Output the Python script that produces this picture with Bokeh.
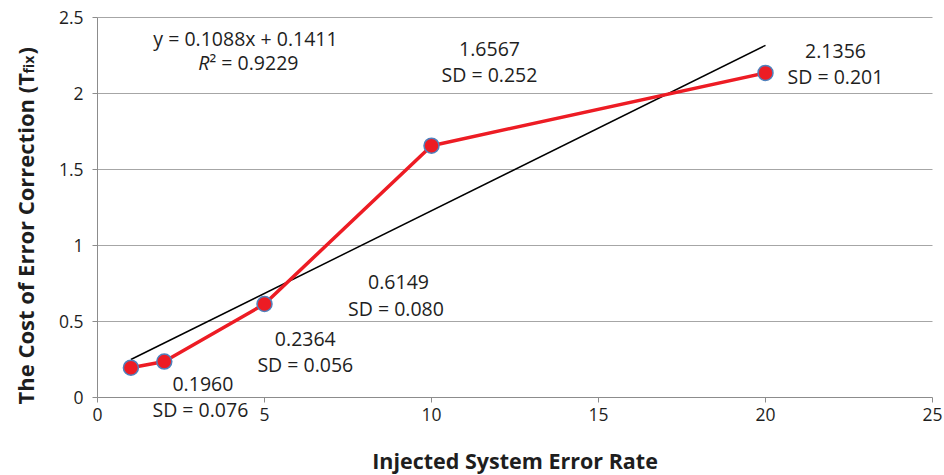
import math
from bokeh.plotting import figure
from bokeh.models import ColumnDataSource, Label, FixedTicker, Range1d
from bokeh.embed import file_html
from bokeh.resources import INLINE

# ---- data ----
error_rate = [1, 2, 5, 10, 20]
cost = [0.1960, 0.2364, 0.6149, 1.6567, 2.1356]
value_labels = ["0.1960", "0.2364", "0.6149", "1.6567", "2.1356"]
sd_labels = ["SD =  0.076", "SD = 0.056", "SD =  0.080", "SD = 0.252", "SD = 0.201"]
trend_slope = 0.1088
trend_intercept = 0.1411
trend_eq = "y = 0.1088x + 0.1411"
r2_text = "² = 0.9229"
x_ticks = [0, 5, 10, 15, 20, 25]
y_ticks = [0, 0.5, 1, 1.5, 2, 2.5]
x_title = "Injected System Error Rate"
y_title_main = "The Cost of Error Correction (T"
y_title_sub = "fix"
y_title_end = ")"

# ---- style / layout ----
W, H = 944, 475
FONT = "Open Sans"
RED = "#ED1C24"
EDGE = "#4F81BD"
GRID = "#A6A6A6"
AXIS = "#8C8C8C"
TXT = "#1E1E1E"
ANN_SIZE = "19.5px"
# frame placement of the data area (pixels inside the canvas)
LEFT, RIGHT, TOP, BOTTOM = 97, 932, 17, 397
xppu = (RIGHT - LEFT) / (x_ticks[-1] - x_ticks[0])
yppu = (BOTTOM - TOP) / (y_ticks[-1] - y_ticks[0])
x_range = Range1d(x_ticks[0] - LEFT / xppu, x_ticks[-1] + (W - RIGHT) / xppu)
y_range = Range1d(y_ticks[0] - (H - BOTTOM) / yppu, y_ticks[-1] + TOP / yppu)

# label offsets relative to the point (screen px, +y = up)
lab_dx = [72, 141, 134, 58, 70]
lab_dy = [-16, 23, 22, 97, 22]
LINE_GAP = 26

p = figure(width=W, height=H, output_backend="svg", toolbar_location=None,
           x_range=x_range, y_range=y_range,
           min_border_left=0, min_border_right=0, min_border_top=0, min_border_bottom=0)
p.outline_line_color = None
p.background_fill_color = "white"
p.border_fill_color = "white"
p.xgrid.visible = False
p.ygrid.visible = False

# axes drawn at the data origin
p.xaxis.fixed_location = 0
p.yaxis.fixed_location = 0
p.xaxis.bounds = (x_ticks[0], x_ticks[-1])
p.yaxis.bounds = (y_ticks[0], y_ticks[-1])
p.xaxis.ticker = FixedTicker(ticks=x_ticks)
p.yaxis.ticker = FixedTicker(ticks=y_ticks)
p.yaxis.formatter.use_scientific = False
for ax in (p.xaxis, p.yaxis):
    ax.axis_line_color = AXIS
    ax.major_tick_line_color = AXIS
    ax.minor_tick_line_color = None
    ax.major_tick_in = 0
    ax.major_tick_out = 5
    ax.major_label_text_font = FONT
    ax.major_label_text_font_size = "17.5px"
    ax.major_label_text_color = TXT
p.xaxis.major_label_standoff = 5
p.yaxis.major_label_standoff = 9

# horizontal gridlines at the y ticks
gy = y_ticks[1:]
p.segment(x0=[x_ticks[0]] * len(gy), y0=gy, x1=[x_ticks[-1]] * len(gy), y1=gy,
          line_color=GRID, line_width=1)

# trend line
tx = [error_rate[0], error_rate[-1]]
ty = [trend_slope * v + trend_intercept for v in tx]
p.line(tx, ty, line_color="black", line_width=1.5)

# data series
src = ColumnDataSource(dict(x=error_rate, y=cost))
p.line("x", "y", source=src, line_color=RED, line_width=3.5)
p.scatter("x", "y", source=src, size=15, fill_color=RED, line_color=EDGE, line_width=1.5)

ann = dict(text_font=FONT, text_font_size=ANN_SIZE, text_color=TXT,
           text_align="center", text_baseline="middle")
for xv, yv, vt, st, dx, dy in zip(error_rate, cost, value_labels, sd_labels, lab_dx, lab_dy):
    p.add_layout(Label(x=xv, y=yv, x_offset=dx, y_offset=dy, text=vt, **ann))
    p.add_layout(Label(x=xv, y=yv, x_offset=dx, y_offset=dy - LINE_GAP, text=st, **ann))

# trendline equation (screen units, origin bottom-left of canvas)
p.add_layout(Label(x=LEFT + 148, y=H - BOTTOM + 359, x_units="screen", y_units="screen",
                   text=trend_eq, **ann))
r_style = dict(text_font=FONT, text_font_size=ANN_SIZE, text_color=TXT, text_baseline="middle")
p.add_layout(Label(x=LEFT + 112, y=H - BOTTOM + 335, x_units="screen", y_units="screen", text="R",
                   text_font_style="italic", text_align="right", **r_style))
p.add_layout(Label(x=LEFT + 112, y=H - BOTTOM + 335, x_units="screen", y_units="screen", text=r2_text,
                   text_align="left", **r_style))

# x axis title
p.add_layout(Label(x=(LEFT + RIGHT) / 2, y=H - 460, x_units="screen", y_units="screen",
                   text=x_title, text_font=FONT, text_font_style="bold", text_font_size="21.5px",
                   text_color=TXT, text_align="center", text_baseline="middle"))

# y axis title with subscript
ytitle = dict(x_units="screen", y_units="screen", text_font=FONT, text_font_style="bold",
              text_color=TXT, angle=math.pi / 2, text_baseline="alphabetic", text_align="left")
p.add_layout(Label(x=24, y=H - 404, text=y_title_main, text_font_size="22px", **ytitle))
p.add_layout(Label(x=28, y=H - 73, text=y_title_sub, text_font_size="14px", **ytitle))
p.add_layout(Label(x=24, y=H - 54, text=y_title_end, text_font_size="22px", **ytitle))

open("out.html", "w").write(file_html(p, INLINE))
